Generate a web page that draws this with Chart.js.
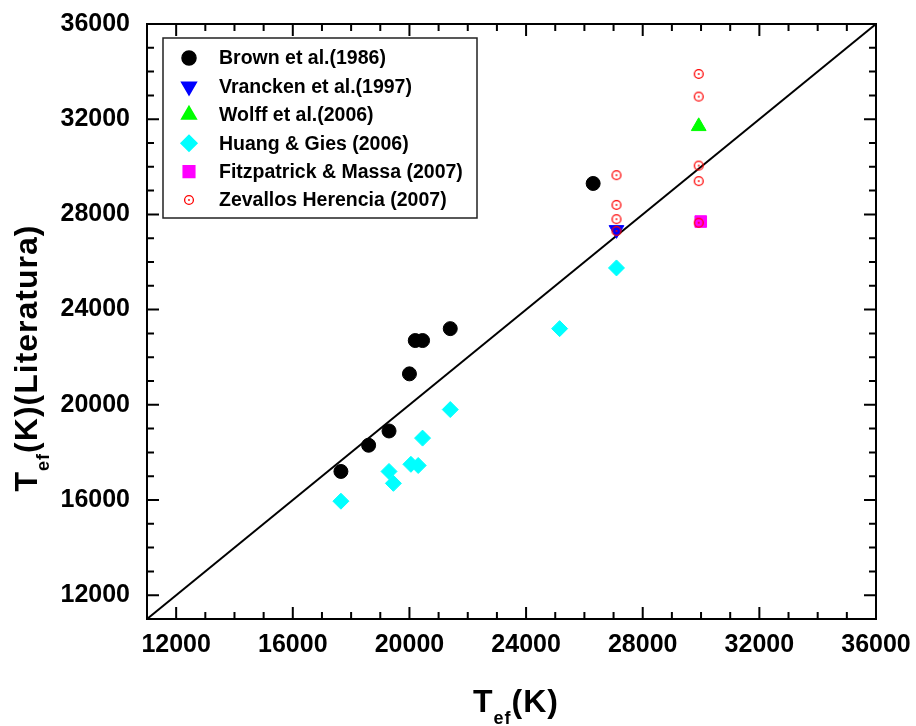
<!DOCTYPE html>
<html>
<head>
<meta charset="utf-8">
<script src="https://cdn.jsdelivr.net/npm/chart.js@4.4.0/dist/chart.umd.min.js"></script>
<style>
  html, body { margin: 0; padding: 0; background: #fff; }
</style>
</head>
<body>
<canvas id="teffChart" width="916" height="726"></canvas>
<script>
// -------------------- DATA --------------------
const axisMin = 11000;
const axisMax = 36000;
const tickValues = [12000, 16000, 20000, 24000, 28000, 32000, 36000];

const brownX = [17650, 18600, 19300, 20000, 20200, 20450, 21400, 26300];
const brownY = [17200, 18300, 18900, 21300, 22700, 22700, 23200, 29300];

const vranckenX = [27100];
const vranckenY = [27350];

const wolffX = [29920];
const wolffY = [31700];

const huangX = [17650, 19300, 19450, 20050, 20300, 20450, 21400, 25150, 27100];
const huangY = [15950, 17200, 16700, 17500, 17450, 18600, 19800, 23200, 25750];

const fitzX = [29990];
const fitzY = [27700];

const zevX = [27100, 27100, 27100, 27100, 29920, 29920, 29920, 29920, 29920];
const zevY = [29650, 28400, 27800, 27300, 33900, 32950, 30050, 29400, 27650];

const diagX = [11000, 36000];
const diagY = [11000, 36000];

const FONT = "'Liberation Sans', Arial, sans-serif";

function pts(xs, ys) {
  return xs.map((x, i) => ({ x: x, y: ys[i] }));
}

// open circle with a dot in the middle (Zevallos marker)
const zevMarker = document.createElement("canvas");
zevMarker.width = 12;
zevMarker.height = 12;
(function () {
  const c = zevMarker.getContext("2d");
  c.strokeStyle = "#ff0000";
  c.fillStyle = "#ff0000";
  c.lineWidth = 1.3;
  c.beginPath();
  c.arc(6, 6, 4.4, 0, Math.PI * 2);
  c.stroke();
  c.beginPath();
  c.arc(6, 6, 0.9, 0, Math.PI * 2);
  c.fill();
})();

// -------------------- PLUGINS --------------------
// frame with inward major/minor ticks on all four sides
const frameTicks = {
  id: "frameTicks",
  beforeDatasetsDraw(chart) {
    const { ctx, chartArea: a, scales: { x, y } } = chart;
    ctx.save();
    ctx.strokeStyle = "#000";
    ctx.lineWidth = 2;
    ctx.beginPath();
    for (let v = axisMin + 1000; v < axisMax; v += 1000) {
      const len = v % 4000 === 0 ? 12 : 7;
      const px = x.getPixelForValue(v);
      const py = y.getPixelForValue(v);
      ctx.moveTo(px, a.bottom); ctx.lineTo(px, a.bottom - len);
      ctx.moveTo(px, a.top); ctx.lineTo(px, a.top + len);
      ctx.moveTo(a.left, py); ctx.lineTo(a.left + len, py);
      ctx.moveTo(a.right, py); ctx.lineTo(a.right - len, py);
    }
    ctx.stroke();
    ctx.strokeRect(a.left, a.top, a.right - a.left, a.bottom - a.top);
    ctx.restore();
  }
};

// legend box inside the plot
const boxLegend = {
  id: "boxLegend",
  afterDatasetsDraw(chart) {
    const ctx = chart.ctx;
    ctx.save();
    ctx.fillStyle = "#fff";
    ctx.fillRect(163, 38, 314, 180);
    ctx.strokeStyle = "#222";
    ctx.lineWidth = 1.5;
    ctx.strokeRect(163, 38, 314, 180);
    let row = 0;
    chart.data.datasets.forEach(ds => {
      if (!ds.label) return;
      const cy = 58 + row * 28.4;
      ctx.fillStyle = ds.backgroundColor;
      ctx.strokeStyle = ds.borderColor;
      Chart.helpers.drawPoint(ctx, {
        pointStyle: ds.pointStyle,
        radius: ds.pointRadius,
        rotation: ds.rotation || 0,
        borderWidth: 1
      }, 189, cy);
      ctx.fillStyle = "#000";
      ctx.font = "bold 19.5px " + FONT;
      ctx.textBaseline = "middle";
      ctx.textAlign = "left";
      ctx.fillText(ds.label, 219, cy + 1);
      row++;
    });
    ctx.restore();
  }
};

// axis titles with subscript
function drawSubText(ctx, parts, cx, baseline) {
  let total = 0;
  parts.forEach(p => {
    ctx.font = "bold " + p.size + "px " + FONT;
    p.w = ctx.measureText(p.t).width;
    total += p.w;
  });
  let x = cx - total / 2;
  parts.forEach(p => {
    ctx.font = "bold " + p.size + "px " + FONT;
    ctx.fillText(p.t, x, baseline + (p.dy || 0));
    x += p.w;
  });
}

const axisTitles = {
  id: "axisTitles",
  afterDraw(chart) {
    const ctx = chart.ctx;
    ctx.save();
    ctx.fillStyle = "#000";
    ctx.textAlign = "left";
    ctx.textBaseline = "alphabetic";
    ctx.letterSpacing = "1px";
    drawSubText(ctx, [
      { t: "T", size: 32 },
      { t: "ef", size: 18, dy: 12 },
      { t: "(K)", size: 32 }
    ], 516, 712);
    ctx.translate(37, 358);
    ctx.rotate(-Math.PI / 2);
    drawSubText(ctx, [
      { t: "T", size: 32 },
      { t: "ef", size: 18, dy: 12 },
      { t: "(K)(Literatura)", size: 32 }
    ], 0, 0);
    ctx.restore();
  }
};

// -------------------- CHART --------------------
const ctx = document.getElementById("teffChart").getContext("2d");

const tickFont = { family: FONT, size: 25, weight: "bold" };

new Chart(ctx, {
  type: "scatter",
  data: {
    datasets: [
      {
        label: "Brown et al.(1986)",
        data: pts(brownX, brownY),
        pointStyle: "circle",
        pointRadius: 7,
        backgroundColor: "#000000",
        borderColor: "#000000"
      },
      {
        label: "Vrancken et al.(1997)",
        data: pts(vranckenX, vranckenY),
        pointStyle: "triangle",
        rotation: 180,
        pointRotation: 180,
        pointRadius: 8.5,
        backgroundColor: "#0000ff",
        borderColor: "#0000ff"
      },
      {
        label: "Wolff et al.(2006)",
        data: pts(wolffX, wolffY),
        pointStyle: "triangle",
        pointRadius: 8.5,
        backgroundColor: "#00ff00",
        borderColor: "#00ff00"
      },
      {
        label: "Huang & Gies (2006)",
        data: pts(huangX, huangY),
        pointStyle: "rectRot",
        pointRadius: 8,
        backgroundColor: "#00ffff",
        borderColor: "#00ffff"
      },
      {
        label: "Fitzpatrick & Massa (2007)",
        data: pts(fitzX, fitzY),
        pointStyle: "rect",
        pointRadius: 8.2,
        backgroundColor: "#ff00ff",
        borderColor: "#ff00ff"
      },
      {
        label: "Zevallos Herencia (2007)",
        data: pts(zevX, zevY),
        pointStyle: zevMarker,
        pointRadius: 6,
        backgroundColor: "#ff0000",
        borderColor: "#ff0000",
        order: -1
      },
      {
        data: pts(diagX, diagY),
        showLine: true,
        pointRadius: 0,
        borderColor: "#000000",
        borderWidth: 2,
        order: 10
      }
    ]
  },
  options: {
    responsive: false,
    animation: false,
    devicePixelRatio: 1,
    layout: { padding: { top: 24, right: 40, bottom: 0, left: 0 } },
    plugins: { legend: { display: false }, tooltip: { enabled: false } },
    scales: {
      x: {
        type: "linear",
        min: axisMin,
        max: axisMax,
        grid: { display: false, drawTicks: false },
        border: { display: false },
        ticks: { font: tickFont, color: "#000", padding: 11, maxRotation: 0, callback: v => String(v) },
        afterBuildTicks: s => { s.ticks = tickValues.map(v => ({ value: v })); },
        afterFit: s => { s.height = 107; s.paddingLeft = 0; s.paddingRight = 0; }
      },
      y: {
        type: "linear",
        min: axisMin,
        max: axisMax,
        grid: { display: false, drawTicks: false },
        border: { display: false },
        ticks: { font: tickFont, color: "#000", padding: 17, callback: v => String(v) },
        afterBuildTicks: s => { s.ticks = tickValues.map(v => ({ value: v })); },
        afterFit: s => { s.width = 147; s.paddingTop = 0; s.paddingBottom = 0; }
      }
    }
  },
  plugins: [frameTicks, boxLegend, axisTitles]
});
</script>
</body>
</html>
